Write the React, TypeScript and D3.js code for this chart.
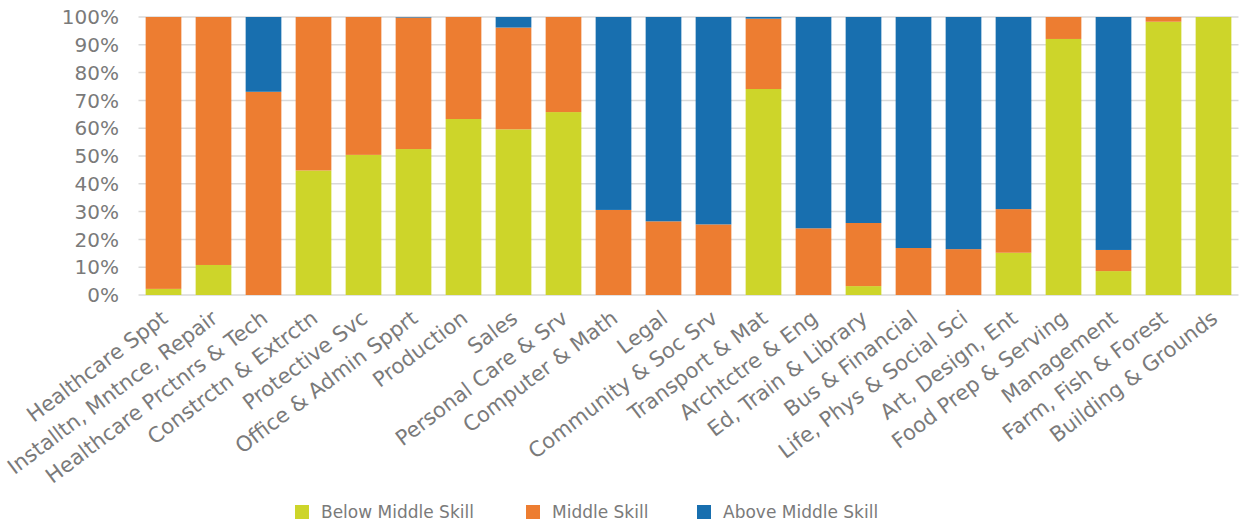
import React from "react";
import * as d3 from "d3";

const categories = [
  "Healthcare Sppt", "Installtn, Mntnce, Repair", "Healthcare Prctnrs & Tech", "Constrctn & Extrctn",
  "Protective Svc", "Office & Admin Spprt", "Production", "Sales", "Personal Care & Srv",
  "Computer & Math", "Legal", "Community & Soc Srv", "Transport & Mat", "Archtctre & Eng",
  "Ed, Train & Library", "Bus & Financial", "Life, Phys & Social Sci", "Art, Design, Ent",
  "Food Prep & Serving", "Management", "Farm, Fish & Forest", "Building & Grounds",
];
const belowMiddle = [2.2, 10.8, 0, 44.8, 50.4, 52.5, 63.3, 59.6, 65.8, 0, 0, 0, 74.1, 0, 3.2, 0, 0, 15.2, 92.1, 8.6, 98.3, 100];
const middle = [97.8, 89.2, 73.1, 55.2, 49.6, 47.3, 36.7, 36.6, 34.2, 30.6, 26.5, 25.4, 25.3, 24.0, 22.7, 16.9, 16.5, 15.7, 7.9, 7.6, 1.7, 0];
const aboveMiddle = [0, 0, 26.9, 0, 0, 0.2, 0, 3.8, 0, 69.4, 73.5, 74.6, 0.6, 76.0, 74.1, 83.1, 83.5, 69.1, 0, 83.8, 0, 0];
const seriesNames = ["Below Middle Skill", "Middle Skill", "Above Middle Skill"];
const seriesColors = ["#CDD52A", "#ED7D31", "#186FAF"];
const yTicks = [0, 10, 20, 30, 40, 50, 60, 70, 80, 90, 100];

const W = 1243, H = 523;
const left = 138.5, right = 1238.5, top = 17, bottom = 295;
const textColor = "#7a7a7a";
const font = "'DejaVu Sans', sans-serif";

export default function App() {
  const x = d3.scaleBand<string>().domain(categories).range([left, right]).paddingInner(0.286).paddingOuter(0.143);
  const y = d3.scaleLinear().domain([0, 100]).range([bottom, top]);
  const rows = categories.map((c, i) => ({ cat: c, s0: belowMiddle[i], s1: middle[i], s2: aboveMiddle[i] }));
  const stack = d3.stack<any>().keys(["s0", "s1", "s2"]).offset(d3.stackOffsetExpand)(rows);

  const legendX = [295, 526, 697];
  return (
    <svg width={W} height={H} style={{ position: "absolute", left: 0, top: 0, background: "#fff" }}>
      <g>
        {yTicks.map((t) => (
          <line key={t} x1={left} x2={right} y1={y(t)} y2={y(t)} stroke="#D9D9D9" strokeWidth={1.5} />
        ))}
      </g>
      <g>
        {stack.map((layer, si) =>
          layer.map((d, i) => {
            const y0 = y(d[0] * 100), y1 = y(d[1] * 100);
            if (y0 - y1 <= 0) return null;
            return (
              <rect key={si + "-" + i} x={x(categories[i])} width={x.bandwidth()} y={y1} height={y0 - y1}
                fill={seriesColors[si]} />
            );
          })
        )}
      </g>
      <g fontFamily={font} fontSize={20} fill={textColor}>
        {yTicks.map((t) => (
          <text key={t} x={119} y={y(t)} dy="0.36em" textAnchor="end">{t + "%"}</text>
        ))}
      </g>
      <g fontFamily={font} fontSize={21} fill={textColor}>
        {categories.map((c) => {
          const cx = (x(c) as number) + x.bandwidth() / 2;
          return (
            <text key={c} transform={`translate(${cx + 1},${315}) rotate(-37)`} textAnchor="end" dy="0.36em">{c}</text>
          );
        })}
      </g>
      <g fontFamily={font} fontSize={17} fill={textColor}>
        {seriesNames.map((n, i) => (
          <g key={n}>
            <rect x={legendX[i]} y={505} width={14} height={14} fill={seriesColors[i]} />
            <text x={legendX[i] + 26} y={512} dy="0.36em">{n}</text>
          </g>
        ))}
      </g>
    </svg>
  );
}
